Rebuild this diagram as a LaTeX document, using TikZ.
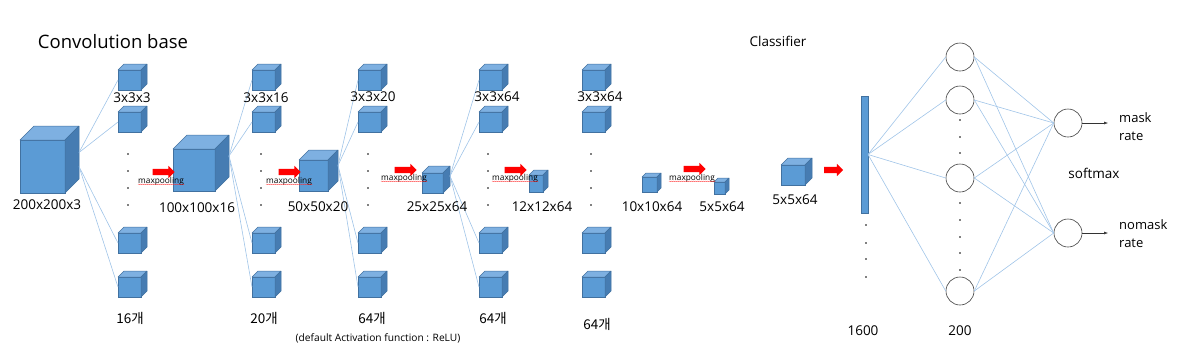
\documentclass[tikz,border=0pt]{standalone}
\usepackage{fontspec}
\setmainfont{Open Sans}
\newfontfamily\krfont{Noto Sans CJK KR}
\usepackage{tikz}
\usetikzlibrary{
    arrows.meta,
    positioning,
    shapes.arrows,
    decorations.pathmorphing
}
\definecolor{CubeBlue}{RGB}{91,155,213}
\definecolor{CubeTop}{RGB}{126,176,225}
\definecolor{CubeSide}{RGB}{70,124,178}
\definecolor{CubeEdge}{RGB}{65,113,160}
\definecolor{LinkBlue}{RGB}{160,196,232}
\tikzset{
  cubefront/.style = {draw=CubeEdge, fill=CubeBlue, line width=0.5pt,
                      inner sep=0pt, outer sep=0pt},
  cubetop/.style   = {draw=CubeEdge, fill=CubeTop, line width=0.5pt, line join=round},
  cubeside/.style  = {draw=CubeEdge, fill=CubeSide, line width=0.5pt, line join=round}
}
% name, x, y (front top-left), width, height, depth
\newcommand{\cubebox}[6]{%
  \node[cubefront, minimum width=#4pt, minimum height=#5pt, anchor=north west] (#1) at (#2,#3) {};
  \filldraw[cubetop] (#1.north west) -- ++(#6,-#6) -- ++(#4,0) -- (#1.north east) -- cycle;
  \filldraw[cubeside] (#1.north east) -- ++(#6,-#6) -- ++(0,#5) -- (#1.south east) -- cycle;
  \coordinate (#1-o) at ([shift={(#6,-#6)}]#1.east);
}

\begin{document}
\begin{tikzpicture}[x=1pt, y=-1pt,
    lbl/.style={font=\fontsize{13.5}{15}\selectfont, inner sep=0pt},
    cnt/.style={font=\fontsize{13.5}{15}\selectfont\krfont, inner sep=0pt},
    mp/.style={font=\fontsize{8.3}{9}\selectfont, inner sep=0pt},
    pool/.style={single arrow, fill=red, draw=none, minimum height=22pt, minimum width=12pt,
                 inner xsep=0pt, inner ysep=3pt, single arrow head extend=3pt,
                 single arrow head indent=0pt},
    wavy/.style={red!85, line width=0.3pt, decorate,
                 decoration={snake, amplitude=0.4pt, segment length=2pt}},
    link/.style={LinkBlue, line width=0.6pt},
    neuron/.style={circle, draw=black!75, line width=0.6pt, fill=white,
                   minimum size=28pt, inner sep=0pt},
    outarr/.style={-{Latex[length=4pt,width=3pt]}, black!80, line width=0.5pt}
]
\useasboundingbox (0,0) rectangle (1199,357);

% Convolution base
\node[font=\fontsize{18.5}{22}\selectfont, inner sep=0pt] (tconv) at (113,42) {Convolution base};

% feature maps
\cubebox{in}{20}{140}{45}{53}{14}
\coordinate (in-l) at ([shift={(14,0)}]in.east);
\cubebox{c100}{173}{149}{42}{42}{14}
\cubebox{c50}{299}{160}{29}{31}{10}
\cubebox{c25}{422}{173}{21}{20}{7}
\cubebox{c12}{529}{175}{14}{17}{5}
\cubebox{c10}{642}{177}{15}{15}{4}
\cubebox{c5}{714}{182}{11}{12}{4}

% filters
\cubebox{f1a}{118}{70}{23}{20}{6} \cubebox{f1b}{118}{112}{23}{20}{6} \cubebox{f1c}{118}{233}{23}{20}{6} \cubebox{f1d}{118}{277}{23}{20}{6}
\cubebox{f2a}{252}{70}{23}{20}{6} \cubebox{f2b}{252}{112}{23}{20}{6} \cubebox{f2c}{252}{233}{23}{20}{6} \cubebox{f2d}{252}{277}{23}{20}{6}
\cubebox{f3a}{358}{70}{23}{20}{6} \cubebox{f3b}{358}{112}{23}{20}{6} \cubebox{f3c}{358}{233}{23}{20}{6} \cubebox{f3d}{358}{277}{23}{20}{6}
\cubebox{f4a}{479}{70}{23}{20}{6} \cubebox{f4b}{479}{112}{23}{20}{6} \cubebox{f4c}{479}{233}{23}{20}{6} \cubebox{f4d}{479}{277}{23}{20}{6}
\cubebox{f5a}{582}{70}{23}{20}{6} \cubebox{f5b}{582}{112}{23}{20}{6} \cubebox{f5c}{582}{233}{23}{20}{6} \cubebox{f5d}{582}{277}{23}{20}{6}

% links to filters
\draw[link] (in-o)--(f1a.west); \draw[link] (in-o)--(f1b.west); \draw[link] (in-l)--(f1c.west); \draw[link] (in-l)--(f1d.west);
\draw[link] (c100-o)--(f2a.west); \draw[link] (c100-o)--(f2b.west); \draw[link] (c100-o)--(f2c.west); \draw[link] (c100-o)--(f2d.west);
\draw[link] (c50-o)--(f3a.west); \draw[link] (c50-o)--(f3b.west); \draw[link] (c50-o)--(f3c.west); \draw[link] (c50-o)--(f3d.west);
\draw[link] (c25-o)--(f4a.west); \draw[link] (c25-o)--(f4b.west); \draw[link] (c25-o)--(f4c.west); \draw[link] (c25-o)--(f4d.west);

% dots between filters
\foreach \x in {128,261,368,488,591}
  \foreach \y in {154,171,188,205}
    \fill (\x,\y) circle (0.8pt);

% filter sizes and counts
\node[lbl] (k1) at (132,98) {3x3x3}; \node[lbl] (k2) at (266,98) {3x3x16}; \node[lbl] (k3) at (373,97) {3x3x20};
\node[lbl] (k4) at (497,97) {3x3x64}; \node[lbl] (k5) at (600,97) {3x3x64};
\node[cnt] (n1) at (130,318) {16개}; \node[cnt] (n2) at (264,318) {20개}; \node[cnt] (n3) at (372,318) {64개};
\node[cnt] (n4) at (493,318) {64개}; \node[cnt] (n5) at (597,324) {64개};
\node[font=\fontsize{10.2}{12}\selectfont, inner sep=0pt] (act) at (378,338) {(default Activation function : ReLU)};

% map sizes
\node[lbl] (s1) at (47,205) {200x200x3}; \node[lbl] (s2) at (197,208) {100x100x16}; \node[lbl] (s3) at (318,207) {50x50x20};
\node[lbl] (s4) at (437,207) {25x25x64}; \node[lbl] (s5) at (542,207) {12x12x64}; \node[lbl] (s6) at (652,207) {10x10x64};
\node[lbl] (s7) at (722,207) {5x5x64};

% maxpooling
\node[pool] (p1) at (162,172) {}; \node[mp] (m1) at (161,181) {maxpooling};
\node[pool] (p2) at (288,172) {}; \node[mp] (m2) at (289,181) {maxpooling};
\node[pool] (p3) at (404,170) {}; \node[mp] (m3) at (404,178) {maxpooling};
\node[pool] (p4) at (514,170) {}; \node[mp] (m4) at (515,178) {maxpooling};
\node[pool] (p5) at (693,169) {}; \node[mp] (m5) at (692,178) {maxpooling};
\draw[wavy] ([yshift=-1.2pt]m1.base west)--([yshift=-1.2pt]m1.base east);
\draw[wavy] ([yshift=-1.2pt]m2.base west)--([yshift=-1.2pt]m2.base east);
\draw[wavy] ([yshift=-1.2pt]m3.base west)--([yshift=-1.2pt]m3.base east);
\draw[wavy] ([yshift=-1.2pt]m4.base west)--([yshift=-1.2pt]m4.base east);
\draw[wavy] ([yshift=-1.2pt]m5.base west)--([yshift=-1.2pt]m5.base east);

% Classifier
\node[lbl] (tcls) at (778,41) {Classifier};
\cubebox{cls}{781}{165}{24}{20}{7}
\node[lbl] (s8) at (795,200) {5x5x64};
\node[pool, minimum height=19pt] (p6) at (832,170) {};
\node[cubefront, minimum width=7pt, minimum height=117pt, anchor=north west] (bar) at (861,96) {};
\foreach \y in {225,243,259,277} \fill (866,\y) circle (0.8pt);

\node[neuron] (h1) at (960,57) {}; \node[neuron] (h2) at (960,100) {};
\node[neuron] (h3) at (960,178) {}; \node[neuron] (h4) at (960,291) {};
\foreach \y in {120,137,153,203,220,237,253,270} \fill (960,\y) circle (0.8pt);
\node[neuron] (o1) at (1068,123) {}; \node[neuron] (o2) at (1068,233) {};

\draw[link] (bar.east)--(h1.west); \draw[link] (bar.east)--(h2.west);
\draw[link] (bar.east)--(h3.west); \draw[link] (bar.east)--(h4.west);
\draw[link] (h1.east)--(o1.west); \draw[link] (h1.east)--(o2.west);
\draw[link] (h2.east)--(o1.west); \draw[link] (h2.east)--(o2.west);
\draw[link] (h3.east)--(o1.west); \draw[link] (h3.east)--(o2.west);
\draw[link] (h4.east)--(o1.west); \draw[link] (h4.east)--(o2.west);

\coordinate (e1) at (1108,123); \coordinate (e2) at (1108,233);
\draw[outarr] (o1.east)--(e1); \draw[outarr] (o2.east)--(e2);
\node[lbl, font=\fontsize{13}{18}\selectfont, align=left, anchor=west] (r1) at (1119,127) {mask\\rate};
\node[lbl, font=\fontsize{13}{18}\selectfont, align=left, anchor=west] (r2) at (1119,234) {nomask\\rate};
\node[lbl] (sm) at (1094,173) {softmax};
\node[lbl] (u1) at (863,331) {1600}; \node[lbl] (u2) at (960,331) {200};
\end{tikzpicture}
\end{document}
